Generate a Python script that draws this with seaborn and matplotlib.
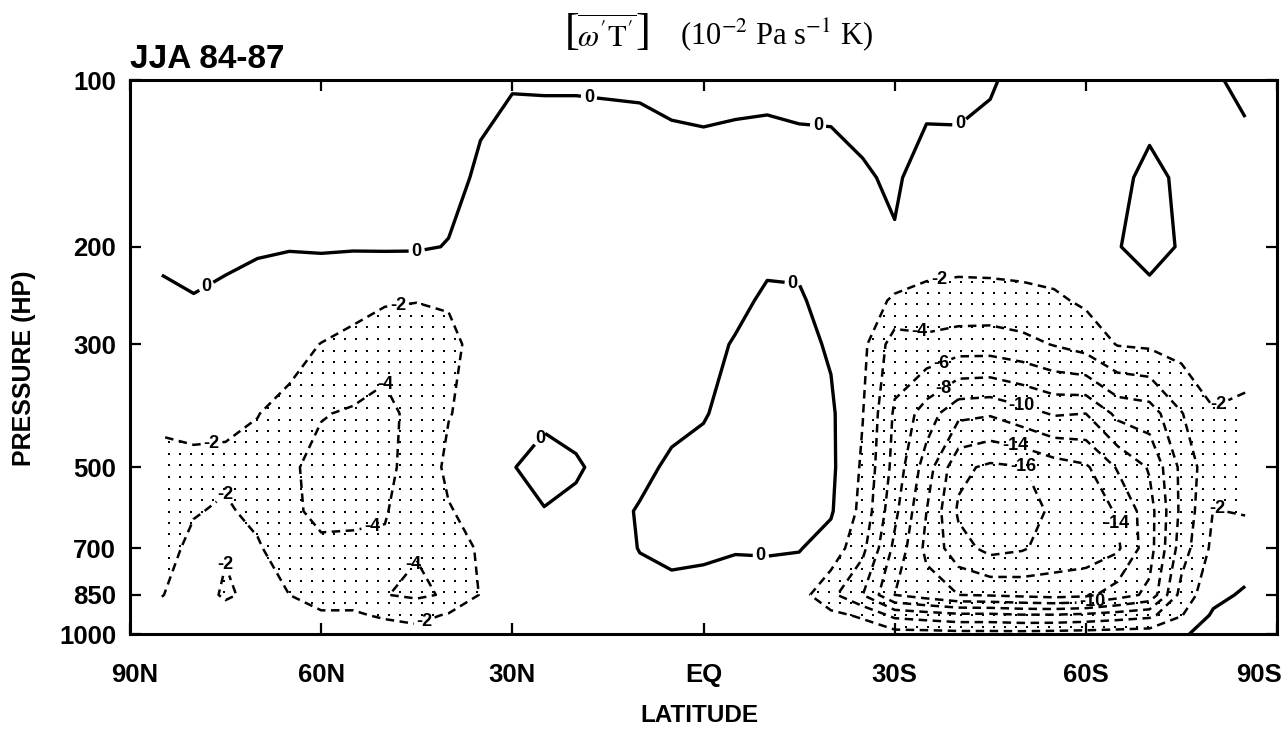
import numpy as np
import matplotlib
matplotlib.use("Agg")
import matplotlib.pyplot as plt
import matplotlib.transforms as mtransforms
import seaborn as sns

# grid: latitude (deg, + = north) and pressure levels (hPa)
lats = [85, 80, 75, 70, 65, 60, 55, 50, 45, 40, 35, 30, 25, 20, 15, 10, 5, 0,
        -5, -10, -15, -20, -25, -30, -35, -40, -45, -50, -55, -60, -65, -70, -75, -80, -85]
plevs = [100, 150, 200, 250, 300, 400, 500, 600, 700, 850, 925, 1000]

# [w'T'] (1e-2 Pa s-1 K), one row per pressure level
p100 = [0.5, 0.5, 0.5, 0.6, 0.6, 0.6, 0.6, 0.6, 0.6, 0.5, 0.2, 0.06, 0.07, 0.07, 0.08, 0.1, 0.2, 0.25,
        0.25, 0.25, 0.3, 0.3, 0.5, 0.5, 0.4, 0.35, 0.1, -0.3, -0.4, -0.5, -0.5, -0.5, -0.4, -0.1, 0.2]
p150 = [0.4, 0.4, 0.4, 0.4, 0.4, 0.4, 0.4, 0.4, 0.4, 0.3, -0.15, -0.45, -0.45, -0.45, -0.4, -0.4, -0.35, -0.33,
        -0.45, -0.55, -0.45, -0.4, -0.15, 0.2, -0.6, -0.5, -0.5, -0.6, -0.6, -0.5, -0.3, 0.3, -0.2, -0.4, -0.4]
p200 = [0.3, 0.3, 0.2, 0.1, 0.05, 0.1, 0.1, 0.15, 0.15, -0.05, -0.8, -0.7, -0.6, -0.6, -0.6, -0.6, -0.5, -0.5,
        -0.5, -0.3, -0.3, -0.6, -0.6, -0.15, -1.2, -1.2, -1.0, -1.0, -1.0, -0.8, -0.05, 0.4, -0.1, -0.5, -0.6]
p250 = [-0.3, -0.05, -0.2, -0.4, -0.6, -0.8, -1.3, -1.8, -1.95, -1.9, -1.3, -0.9, -0.6, -0.6, -0.6, -0.6, -0.5, -0.5,
        -0.3, 0.2, 0.15, -0.5, -1.0, -2.3, -2.5, -2.7, -2.8, -2.6, -2.3, -1.7, -0.8, -0.4, -0.6, -0.8, -0.9]
p300 = [-0.8, -0.6, -0.7, -1.0, -1.3, -2.05, -2.6, -3.3, -3.0, -2.3, -1.6, -1.0, -0.6, -0.6, -0.7, -0.6, -0.5, -0.4,
        0.1, 0.5, 0.5, -0.2, -1.5, -5.0, -4.6, -5.0, -5.0, -4.6, -3.9, -3.2, -1.9, -1.7, -1.3, -1.2, -1.4]
p400 = [-1.6, -1.5, -1.7, -1.95, -2.6, -3.9, -4.2, -4.6, -3.3, -2.05, -1.6, -0.8, -0.2, -0.4, -0.6, -0.5, -0.3, -0.1,
        0.5, 0.8, 0.8, 0.3, -1.95, -6.3, -9.0, -11.5, -11.8, -10.8, -9.8, -10.0, -7.5, -7.0, -4.1, -2.1, -2.3]
p500 = [-2.6, -2.4, -2.3, -2.6, -3.7, -4.6, -5.0, -4.6, -3.0, -1.7, -1.3, -0.05, 0.4, 0.15, -0.4, -0.3, 0.2, 0.5,
        0.8, 1.0, 0.9, 0.4, -2.3, -6.7, -11.0, -15.5, -16.4, -16.1, -15.0, -14.3, -11.8, -9.8, -5.5, -2.5, -2.6]
p600 = [-2.8, -2.1, -1.8, -2.4, -3.6, -4.5, -4.3, -4.1, -3.2, -2.1, -1.5, -0.6, -0.05, -0.3, -0.4, 0.1, 0.5, 0.7,
        0.8, 0.9, 0.7, 0.2, -2.6, -7.5, -12.0, -16.3, -17.3, -17.0, -15.6, -15.2, -13.8, -10.8, -5.5, -1.95, -2.1]
p700 = [-2.6, -1.6, -1.9, -1.8, -3.0, -3.6, -3.7, -3.8, -3.9, -2.8, -1.8, -1.0, -0.6, -0.7, -0.6, 0.05, 0.4, 0.3,
        0.1, 0.15, 0.1, -0.8, -3.5, -8.5, -12.5, -15.2, -16.6, -16.2, -15.2, -15.0, -14.3, -10.8, -5.0, -1.5, -1.2]
p850 = [-2.05, -1.3, -2.2, -1.6, -2.0, -2.6, -2.6, -3.95, -4.3, -3.8, -1.9, -1.3, -0.9, -0.9, -0.8, -0.5, -0.5, -0.6,
        -0.7, -0.8, -1.2, -3.5, -6.0, -10.0, -11.0, -12.0, -12.2, -12.5, -12.8, -12.5, -11.0, -9.5, -3.2, -0.6, 0.3]
p925 = [-1.5, -1.0, -1.4, -1.2, -1.5, -1.8, -1.8, -2.2, -2.6, -1.8, -1.3, -1.0, -0.7, -0.7, -0.6, -0.5, -0.5, -0.5,
        -0.6, -0.7, -0.9, -1.5, -2.3, -4.5, -5.0, -5.5, -5.5, -5.8, -5.8, -5.5, -5.0, -4.5, -2.1, 0.3, 0.6]
p1000 = [-1.0, -0.6, -0.8, -0.7, -0.9, -1.0, -1.0, -1.2, -1.3, -1.0, -0.8, -0.6, -0.4, -0.4, -0.4, -0.3, -0.3, -0.3,
         -0.3, -0.4, -0.5, -0.6, -0.8, -1.2, -1.2, -1.3, -1.3, -1.3, -1.2, -1.1, -1.0, -0.9, -0.2, 0.6, 0.7]

neg_levels = [-16, -14, -12, -10, -8, -6, -4, -2]
lat_ticks = [90, 60, 30, 0, -30, -60, -90]
lat_labels = ["90N", "60N", "30N", "EQ", "30S", "60S", "90S"]
p_ticks = [100, 200, 300, 500, 700, 850, 1000]

# where the contour labels sit on the chart (lat, hPa)
zero_label_pos = [(77, 247), (45, 207), (18, 108), (-18, 120), (-41, 123),
                  (-14, 232), (-9, 720), (26, 440)]
neg_label_pos = [(77, 480), (77, 525), (48, 251), (48, 344), (52, 640), (48, 712),
                 (44, 935), (74, 730), (-37, 230), (-34, 278), (-37, 318), (-37, 352),
                 (-50, 385), (-49, 450), (-50, 505), (-65, 630), (-61, 868),
                 (-81, 390), (-81, 575)]

sns.set_style("ticks")
plt.rcParams["font.family"] = ["Liberation Sans", "DejaVu Sans"]
plt.rcParams["mathtext.fontset"] = "stix"
plt.rcParams["lines.dashed_pattern"] = [3.4, 2.2]
for key in ["text.color", "axes.labelcolor", "xtick.color", "ytick.color", "axes.edgecolor"]:
    plt.rcParams[key] = "black"

field = np.array([p100, p150, p200, p250, p300, p400, p500, p600, p700, p850, p925, p1000])
assert field.shape == (len(plevs), len(lats))
LAT, P = np.meshgrid(lats, plevs)

W, H = 1288, 730
fig = plt.figure(figsize=(W / 100, H / 100), dpi=100)
ax = fig.add_axes([130 / W, 1 - 634 / H, 1147 / W, 554 / H])
ax.set_yscale("log")
ax.set_xlim(90, -90)
ax.set_ylim(1000, 100)

# region below -2 (invisible fill, used for the stipple)
cf = ax.contourf(LAT, P, field, levels=[-40, -2], colors="none")

# stipple: a regular dot raster kept only inside the < -2 region
xs = np.arange(136, 1277, 11.0)
ys = np.arange(86, 634, 11.5)
XX, YY = np.meshgrid(xs, ys)
disp = np.column_stack([XX.ravel(), H - YY.ravel()])
pts = ax.transData.inverted().transform(disp)
inside = np.zeros(len(pts), dtype=bool)
for path in cf.get_paths():
    if len(path.vertices):
        inside |= path.contains_points(pts)
ax.scatter(pts[inside, 0], pts[inside, 1], s=2.2, c="black", marker="s", linewidths=0)

cs_neg = ax.contour(LAT, P, field, levels=neg_levels, colors="black",
                    linewidths=1.8, linestyles="dashed")
cs_zero = ax.contour(LAT, P, field, levels=[0], colors="black", linewidths=2.4)
for cs, spots in ((cs_neg, neg_label_pos), (cs_zero, zero_label_pos)):
    labels = ax.clabel(cs, fmt="%d", fontsize=13, inline_spacing=3, manual=spots)
    for t in labels:
        t.set_rotation(0)
        t.set_fontweight("bold")

ax.set_xticks(lat_ticks)
ax.set_xticklabels(lat_labels)
ax.set_yticks(p_ticks)
ax.set_yticklabels([str(p) for p in p_ticks])
ax.minorticks_off()
ax.tick_params(axis="both", direction="in", length=8, width=1.6, top=True, right=True,
               labelsize=18.5, colors="black")
ax.tick_params(axis="x", pad=21)
ax.tick_params(axis="y", pad=10)
for lab in ax.get_xticklabels() + ax.get_yticklabels():
    lab.set_fontweight("bold")
xlabs = ax.get_xticklabels()
xlabs[0].set_transform(xlabs[0].get_transform()
                       + mtransforms.ScaledTranslation(5 / 100, 0, fig.dpi_scale_trans))
xlabs[-1].set_transform(xlabs[-1].get_transform()
                        + mtransforms.ScaledTranslation(-18 / 100, 0, fig.dpi_scale_trans))
for sp in ax.spines.values():
    sp.set_linewidth(2.2)
    sp.set_color("black")
    sp.set_visible(True)

fig.text(24 / W, 1 - 368 / H, "PRESSURE (HP)", rotation=90, ha="center", va="center",
         fontsize=18, fontweight="bold")
fig.text(699 / W, 1 - 715 / H, "LATITUDE", ha="center", va="center",
         fontsize=17.5, fontweight="bold")
fig.text(130 / W, 1 - 60 / H, "JJA 84-87", ha="left", va="center", fontsize=24,
         fontweight="bold")

# title: bracketed overlined w'T' followed by the units
serif = "Liberation Serif"
fig.text(572 / W, 1 - 33 / H, "[", ha="center", va="center", fontsize=32, family=serif)
fig.text(607 / W, 1 - 35 / H, r"$\overline{\omega^{\prime}\mathrm{T}^{\prime}}$",
         ha="center", va="center", fontsize=22, family=serif)
fig.text(643 / W, 1 - 33 / H, "]", ha="center", va="center", fontsize=32, family=serif)
fig.text(680 / W, 1 - 35 / H, r"(10$^{-2}$ Pa s$^{-1}$ K)", ha="left", va="center",
         fontsize=22, family=serif)

fig.savefig("out.png", dpi=100)
